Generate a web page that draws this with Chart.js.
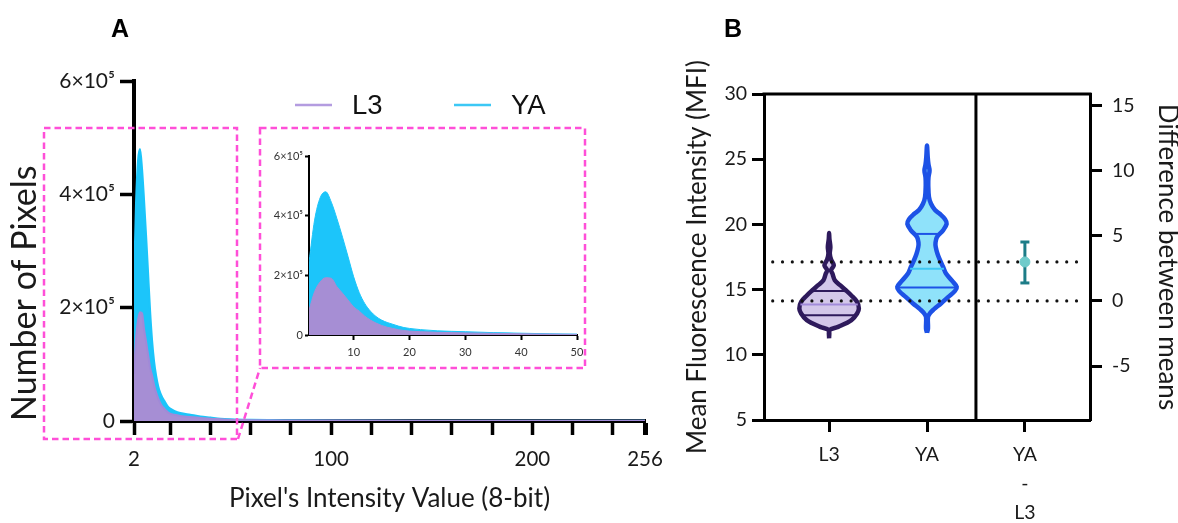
<!DOCTYPE html>
<html><head><meta charset="utf-8">
<script src="https://cdn.jsdelivr.net/npm/chart.js@4.4.1/dist/chart.umd.min.js"></script>
<style>
html,body{margin:0;padding:0;background:#fff;}
body{width:1178px;height:523px;position:relative;overflow:hidden;font-family:Lato,sans-serif;}
.box{position:absolute;}
canvas{display:block;}
.plabel{position:absolute;transform:translate(-50%,-50%);font-family:"Liberation Sans",Arial,sans-serif;font-weight:bold;font-size:25px;color:#000;line-height:1;}
svg{position:absolute;left:0;top:0;pointer-events:none;}
</style></head><body>
<div class="box" style="left:0;top:0;width:680px;height:523px"><canvas id="cMain" width="680" height="523"></canvas></div>
<div class="box" style="left:262px;top:140px;width:330px;height:225px"><canvas id="cInset" width="330" height="225"></canvas></div>
<div class="box" style="left:680px;top:0;width:498px;height:523px"><canvas id="cB" width="498" height="523"></canvas></div>
<svg width="1178" height="523">
  <g fill="none" stroke="#FF4FD8" stroke-width="2.5" stroke-dasharray="6.5 4">
    <rect x="44" y="128" width="193" height="311"/>
    <rect x="260" y="128" width="325" height="240"/>
    <line x1="238" y1="439" x2="260" y2="368"/>
  </g>
</svg>
<div class="plabel" style="left:120px;top:28px">A</div>
<div class="plabel" style="left:733px;top:28px">B</div>
<script>
// ---------------- Panel A data ----------------
const intensity = [2,3,4,5,6,7,8,9,10,11,12,13,14,15,16,17,18,19,20,22,25,30,35,40,45,50,60,80,100,150,200,256];
const countL3 = [83000,145000,178000,192000,190000,162000,140000,117000,94000,80000,63000,50000,40000,32000,26000,22000,18000,15000,13000,11000,9000,7000,5500,4000,3000,2000,1500,1000,800,500,400,300];
const countYA = [244000,385000,460000,480000,445000,390000,328000,262000,195000,142000,105000,80000,62000,50000,42000,36000,30000,25000,22000,18000,14000,11000,8000,6000,4000,3000,2000,1200,800,500,400,300];
const seriesNames = ['L3','YA'];
const mainXTicks = [2,20,40,60,80,100,120,140,160,180,200,220,240,256];
const mainXLabels = [2,100,200,256];
const mainYTicks = [0,200000,400000,600000];
const insetXTicks = [10,20,30,40,50];

// ---------------- Panel B data ----------------
const groups = ['L3','YA'];
const diffLabel = ['YA','-','L3'];
const violinL3Level = [11.26,11.89,12.14,12.66,13.17,13.55,14.06,14.57,14.95,15.34,15.72,16.23,16.49,16.87,17.3,17.76,18.27,18.91,19.34];
const violinL3Width = [0,0.005,0.092,0.228,0.286,0.304,0.286,0.225,0.171,0.112,0.058,0.034,0.020,0.048,0.020,0.007,0.013,0.003,0];
const violinYALevel = [11.69,12.0,12.9,13.2,13.5,13.94,14.44,14.9,15.2,15.59,16.23,16.75,17.25,17.75,18.27,18.6,19.03,19.54,20.05,20.4,20.8,21.1,21.58,22.1,23.0,23.6,24.14,24.6,25.2,26.05];
const violinYAWidth = [0,0.010,0.010,0.031,0.072,0.143,0.218,0.286,0.304,0.266,0.194,0.164,0.133,0.107,0.089,0.087,0.102,0.164,0.201,0.184,0.133,0.082,0.041,0.020,0.013,0.015,0.026,0.015,0.007,0];
const quartL3 = [13.04,13.86,14.9];
const quartYA = [15.16,16.6,19.27];
const groupMeans = [14.13,17.12];
const diffMean = [2.99];
const diffCI = [1.38,4.52];
const leftTicks = [5,10,15,20,25,30];
const rightTicks = [-5,0,5,10,15];

const FONT = 'Lato, "Noto Sans", sans-serif';
const TXT = '#1a1a1a';
const colL3 = '#A68ED4', colYA = '#1CC5FA';

// ---------- main histogram ----------
const legendPlugin = {
  id:'legendA',
  afterDraw(chart){
    const ctx = chart.ctx;
    const items = [{n:seriesNames[0], c:'#B49CE0', x:295}, {n:seriesNames[1], c:'#3CC8F5', x:454}];
    ctx.save();
    ctx.font = '27.5px "Liberation Sans", Arial, sans-serif';
    ctx.textBaseline = 'middle';
    items.forEach(it=>{
      ctx.strokeStyle = it.c; ctx.lineWidth = 2.5;
      ctx.beginPath(); ctx.moveTo(it.x,105); ctx.lineTo(it.x+37,105); ctx.stroke();
      ctx.fillStyle = '#111';
      ctx.fillText(it.n, it.x+57, 106);
    });
    ctx.restore();
  }
};
function pts(ys){ return intensity.map((x,i)=>({x:x, y:ys[i]})); }
function yLab(v){ return v===0 ? '0' : (v/100000)+'×10⁵'; }

new Chart(document.getElementById('cMain'), {
  type:'line',
  data:{datasets:[
    {label:seriesNames[0], data:pts(countL3), fill:'origin', backgroundColor:colL3, borderColor:'#A08AD8', borderWidth:2, pointRadius:0, cubicInterpolationMode:'monotone'},
    {label:seriesNames[1], data:pts(countYA), fill:'origin', backgroundColor:colYA, borderColor:colYA, borderWidth:2, pointRadius:0, cubicInterpolationMode:'monotone'}
  ]},
  options:{
    responsive:false, animation:false,
    layout:{padding:{left:0,top:81,right:35,bottom:0}},
    plugins:{legend:{display:false}, tooltip:{enabled:false}},
    scales:{
      x:{type:'linear', min:2, max:256,
        afterBuildTicks:s=>{ s.ticks = mainXTicks.map(v=>({value:v})); },
        afterFit:s=>{ s.height = 102; },
        ticks:{autoSkip:false, maxRotation:0, padding:12, color:TXT, font:{family:FONT,size:20.5},
          callback:v=> mainXLabels.includes(v) ? String(v) : ''},
        grid:{drawOnChartArea:false, drawTicks:true, tickLength:14, tickColor:'#000', tickWidth:c=> (c.tick && c.tick.value===256) ? 5 : 3.5},
        border:{display:true, width:4, color:'#000'},
        title:{display:true, text:"Pixel's Intensity Value (8-bit)", color:TXT, font:{family:FONT,size:26}, padding:{top:0,bottom:9}}
      },
      y:{type:'linear', min:0, max:600000,
        afterBuildTicks:s=>{ s.ticks = mainYTicks.map(v=>({value:v})); },
        afterFit:s=>{ s.width = 134; },
        ticks:{padding:5, color:TXT, font:{family:FONT,size:21}, callback:v=>yLab(v)},
        grid:{drawOnChartArea:false, drawTicks:true, tickLength:14, tickColor:'#000', tickWidth:3.5},
        border:{display:true, width:4, color:'#000'},
        title:{display:true, text:'Number of Pixels', align:'start', color:TXT, font:{family:FONT,size:34}, padding:{top:5,bottom:0}}
      }
    }
  },
  plugins:[legendPlugin]
});

// ---------- inset ----------
new Chart(document.getElementById('cInset'), {
  type:'line',
  data:{datasets:[
    {label:seriesNames[0], data:pts(countL3), fill:'origin', backgroundColor:colL3, borderColor:colL3, borderWidth:1, pointRadius:0, cubicInterpolationMode:'monotone'},
    {label:seriesNames[1], data:pts(countYA), fill:'origin', backgroundColor:colYA, borderColor:colYA, borderWidth:1, pointRadius:0, cubicInterpolationMode:'monotone'}
  ]},
  options:{
    responsive:false, animation:false,
    layout:{padding:{left:0,top:16,right:15,bottom:0}},
    plugins:{legend:{display:false}, tooltip:{enabled:false}},
    scales:{
      x:{type:'linear', min:2, max:50,
        afterBuildTicks:s=>{ s.ticks = insetXTicks.map(v=>({value:v})); },
        afterFit:s=>{ s.height = 30; },
        ticks:{autoSkip:false, maxRotation:0, padding:6, color:'#333', font:{family:FONT,size:11}},
        grid:{drawOnChartArea:false, drawTicks:true, tickLength:5, tickColor:'#000', tickWidth:2},
        border:{display:true, width:2, color:'#000'}
      },
      y:{type:'linear', min:0, max:600000,
        afterBuildTicks:s=>{ s.ticks = mainYTicks.map(v=>({value:v})); },
        afterFit:s=>{ s.width = 47; },
        ticks:{padding:2, color:'#333', font:{family:FONT,size:11}, callback:v=>yLab(v)},
        grid:{drawOnChartArea:false, drawTicks:true, tickLength:4, tickColor:'#000', tickWidth:2},
        border:{display:true, width:2, color:'#000'}
      }
    }
  }
});

// ---------- Panel B ----------
function violinData(center, levels, widths){
  const right = levels.map((y,i)=>({x:center+widths[i], y:y}));
  const left = levels.map((y,i)=>({x:center-widths[i], y:y})).reverse();
  return right.concat(left.slice(1));
}
function widthAt(levels, widths, q){
  for (let i=0;i<levels.length-1;i++){
    if (q>=levels[i] && q<=levels[i+1]){
      const t=(q-levels[i])/(levels[i+1]-levels[i]);
      return widths[i]+t*(widths[i+1]-widths[i]);
    }
  }
  return 0;
}
function hLine(center, levels, widths, q, color, w){
  const hw = widthAt(levels, widths, q);
  return {type:'line', data:[{x:center-hw,y:q},{x:center+hw,y:q}], borderColor:color, borderWidth:w, pointRadius:0, fill:false, yAxisID:'y'};
}
const meanL3 = groupMeans[0];
const yMin = leftTicks[0], yMax = leftTicks[leftTicks.length-1];
const capHalf = 0.046;
const teal = '#1C7C87';
const dsB = [
  {type:'line', data:[{x:2,y:diffMean[0]}], showLine:false, pointRadius:5, pointBackgroundColor:'#6FCBCB', pointBorderColor:'#6FCBCB', yAxisID:'y2'},
  {type:'line', data:[{x:2-capHalf,y:diffCI[1]},{x:2+capHalf,y:diffCI[1]}], borderColor:teal, borderWidth:3, pointRadius:0, yAxisID:'y2'},
  {type:'line', data:[{x:2-capHalf,y:diffCI[0]},{x:2+capHalf,y:diffCI[0]}], borderColor:teal, borderWidth:3, pointRadius:0, yAxisID:'y2'},
  {type:'line', data:[{x:2,y:diffCI[0]},{x:2,y:diffCI[1]}], borderColor:teal, borderWidth:3, pointRadius:0, yAxisID:'y2'},
];
groupMeans.forEach(m=>{
  dsB.push({type:'line', data:[{x:-0.576,y:m},{x:2.563,y:m}], borderColor:'#111', borderWidth:3.2, borderDash:[0,9.8], borderCapStyle:'round', pointRadius:0, yAxisID:'y'});
});
dsB.push(hLine(0, violinL3Level, violinL3Width, quartL3[0], '#2E1A5C', 2));
dsB.push(hLine(0, violinL3Level, violinL3Width, quartL3[1], '#A28BD9', 2));
dsB.push(hLine(0, violinL3Level, violinL3Width, quartL3[2], '#2E1A5C', 2));
dsB.push(hLine(1, violinYALevel, violinYAWidth, quartYA[0], '#1D52E6', 2));
dsB.push(hLine(1, violinYALevel, violinYAWidth, quartYA[1], '#3FC9F5', 2));
dsB.push(hLine(1, violinYALevel, violinYAWidth, quartYA[2], '#1D52E6', 2));
dsB.push({type:'line', label:groups[0], data:violinData(0, violinL3Level, violinL3Width), fill:'shape', backgroundColor:'#D3C7EA', borderColor:'#2E1A5C', borderWidth:4.5, borderJoinStyle:'round', tension:0.35, pointRadius:0, yAxisID:'y'});
dsB.push({type:'line', label:groups[1], data:violinData(1, violinYALevel, violinYAWidth), fill:'shape', backgroundColor:'#8FE2FA', borderColor:'#1D52E6', borderWidth:4.5, borderJoinStyle:'round', tension:0.35, pointRadius:0, yAxisID:'y'});

const frameB = {
  id:'frameB',
  beforeDatasetsDraw(chart){
    const {ctx, chartArea:a, scales} = chart;
    const sx = scales.x.getPixelForValue(1.5);
    ctx.save(); ctx.strokeStyle='#000'; ctx.lineWidth=3;
    ctx.beginPath();
    ctx.moveTo(a.left-1.5, a.top); ctx.lineTo(a.right+1.5, a.top);
    ctx.moveTo(sx, a.top); ctx.lineTo(sx, a.bottom);
    ctx.stroke(); ctx.restore();
  }
};
const catLabels = groups.concat([diffLabel]);
new Chart(document.getElementById('cB'), {
  type:'line',
  data:{datasets:dsB},
  options:{
    responsive:false, animation:false,
    layout:{padding:{left:0,top:94,right:0,bottom:0}},
    plugins:{legend:{display:false}, tooltip:{enabled:false}},
    scales:{
      x:{type:'linear', min:-0.665, max:2.665,
        afterBuildTicks:s=>{ s.ticks = [0,1,2].map(v=>({value:v})); },
        afterFit:s=>{ s.height = 103; },
        ticks:{autoSkip:false, maxRotation:0, padding:8, color:TXT, font:{family:FONT,size:19.5,lineHeight:1.5}, callback:v=>catLabels[v]},
        grid:{drawOnChartArea:false, drawTicks:true, tickLength:12, tickColor:'#000', tickWidth:3},
        border:{display:true, width:3, color:'#000'}
      },
      y:{type:'linear', position:'left', min:yMin, max:yMax,
        afterBuildTicks:s=>{ s.ticks = leftTicks.map(v=>({value:v})); },
        afterFit:s=>{ s.width = 84; },
        ticks:{padding:5, color:TXT, font:{family:FONT,size:19.5}},
        grid:{drawOnChartArea:false, drawTicks:true, tickLength:12, tickColor:'#000', tickWidth:3},
        border:{display:true, width:3, color:'#000'},
        title:{display:true, text:'Mean Fluorescence Intensity (MFI)', color:TXT, font:{family:FONT,size:26}, padding:{top:2.5,bottom:0}}
      },
      y2:{type:'linear', position:'right', min:yMin-meanL3, max:yMax-meanL3,
        afterBuildTicks:s=>{ s.ticks = rightTicks.map(v=>({value:v})); },
        afterFit:s=>{ s.width = 88; },
        ticks:{padding:10, color:TXT, font:{family:FONT,size:19.5}},
        grid:{drawOnChartArea:false, drawTicks:true, tickLength:12, tickColor:'#000', tickWidth:3},
        border:{display:true, width:3, color:'#000'},
        title:{display:true, text:'Difference between means', color:TXT, font:{family:FONT,size:26,lineHeight:0.85}, padding:{top:0,bottom:0}}
      }
    }
  },
  plugins:[frameB]
});
</script>
</body></html>
